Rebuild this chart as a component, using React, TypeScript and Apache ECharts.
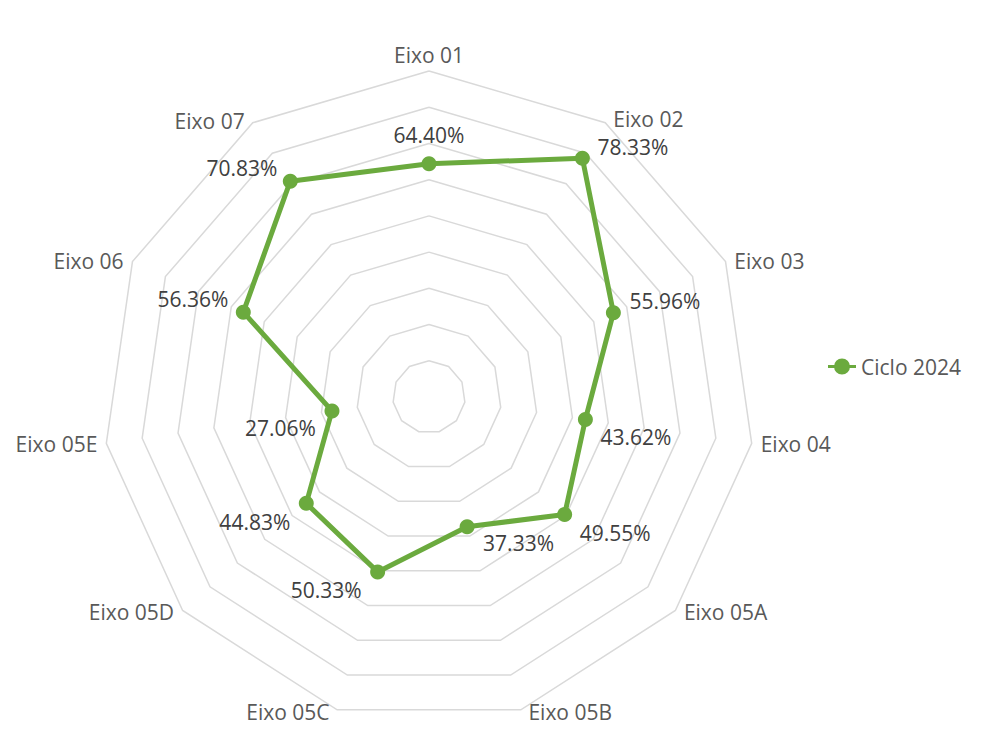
import React, { useEffect, useRef } from "react";
import * as echarts from "echarts";

// ---- data (clockwise from the top) ----
const axisNames = [
  "Eixo 01",
  "Eixo 02",
  "Eixo 03",
  "Eixo 04",
  "Eixo 05A",
  "Eixo 05B",
  "Eixo 05C",
  "Eixo 05D",
  "Eixo 05E",
  "Eixo 06",
  "Eixo 07",
];
const ciclo2024 = [64.4, 78.33, 55.96, 43.62, 49.55, 37.33, 50.33, 44.83, 27.06, 56.36, 70.83];
const seriesName = "Ciclo 2024";
const axisMax = 90;
const ringCount = 9;

// ---- styling ----
const GREEN = "#6BAA3E";
const FONT = "Open Sans";

// label placement next to each marker (same order as axisNames)
const labelPlacement = [
  { align: "center", dx: 0, dy: -29 },
  { align: "left", dx: 15, dy: -11 },
  { align: "left", dx: 16, dy: -12 },
  { align: "left", dx: 15, dy: 18 },
  { align: "left", dx: 15, dy: 18 },
  { align: "left", dx: 16, dy: 16 },
  { align: "right", dx: -16, dy: 18 },
  { align: "right", dx: -16, dy: 19 },
  { align: "right", dx: -16, dy: 17 },
  { align: "right", dx: -15, dy: -13 },
  { align: "right", dx: -13, dy: -13 },
];

const fmt = (v: number) => v.toFixed(2) + "%";

export default function App() {
  const ref = useRef<HTMLDivElement>(null);

  useEffect(() => {
    if (!ref.current) return;
    const chart = echarts.init(ref.current, undefined, { renderer: "svg" });

    // ECharts lays indicators out counter-clockwise; reorder so they read clockwise
    const order = [0, ...axisNames.map((_, i) => i).slice(1).reverse()];
    const indicators = order.map((i) => ({ name: axisNames[i], min: 0, max: axisMax }));
    const values = order.map((i) => ciclo2024[i]);

    const nameText = { fontFamily: FONT, fontSize: 21, color: "#595959", lineHeight: 20 };

    chart.setOption({
      animation: false,
      backgroundColor: "#ffffff",
      legend: {
        data: [seriesName],
        left: 828,
        top: 356,
        padding: 0,
        itemWidth: 28,
        itemHeight: 16,
        icon: "path://M0,6.5L28,6.5L28,9.5L0,9.5Z M6,8A8,8,0,1,1,22,8A8,8,0,1,1,6,8Z",
        textStyle: { fontFamily: FONT, fontSize: 21, color: "#595959" },
      },
      radar: {
        center: [429, 397],
        radius: 326,
        splitNumber: ringCount,
        shape: "polygon",
        indicator: indicators,
        nameGap: 2,
        axisName: {
          ...nameText,
          formatter: (name: string) =>
            name === axisNames[0]
              ? `{top|${name}}`
              : name === axisNames[1]
              ? `{upper|${name}}`
              : `{side|${name}}`,
          rich: {
            top: { ...nameText, padding: [0, 0, 8, 0] },
            upper: { ...nameText, padding: [0, 7, 5, 7] },
            side: { ...nameText, padding: [0, 7, 0, 7] },
          },
        },
        axisLine: { show: false },
        axisTick: { show: false },
        axisLabel: { show: false },
        splitArea: { show: false },
        splitLine: { lineStyle: { color: "#D9D9D9", width: 1.5 } },
      },
      series: [
        {
          type: "radar",
          name: seriesName,
          symbol: "circle",
          symbolSize: 15,
          lineStyle: { color: GREEN, width: 5 },
          itemStyle: { color: GREEN },
          label: {
            show: true,
            position: "inside",
            formatter: (p: any) => fmt(p.value),
            fontFamily: FONT,
            fontSize: 21,
            lineHeight: 18,
            color: "#404040",
          },
          labelLayout: (p: any) => {
            const i = ciclo2024.findIndex((v) => fmt(v) === p.text);
            const s = labelPlacement[i] || { align: "center", dx: 0, dy: -25 };
            return { dx: s.dx, dy: s.dy, align: s.align, verticalAlign: "middle" };
          },
          data: [{ name: seriesName, value: values }],
        },
      ],
    });

    return () => chart.dispose();
  }, []);

  return (
    <div
      ref={ref}
      style={{ position: "fixed", left: 0, top: 0, width: 984, height: 729, background: "#fff" }}
    />
  );
}
